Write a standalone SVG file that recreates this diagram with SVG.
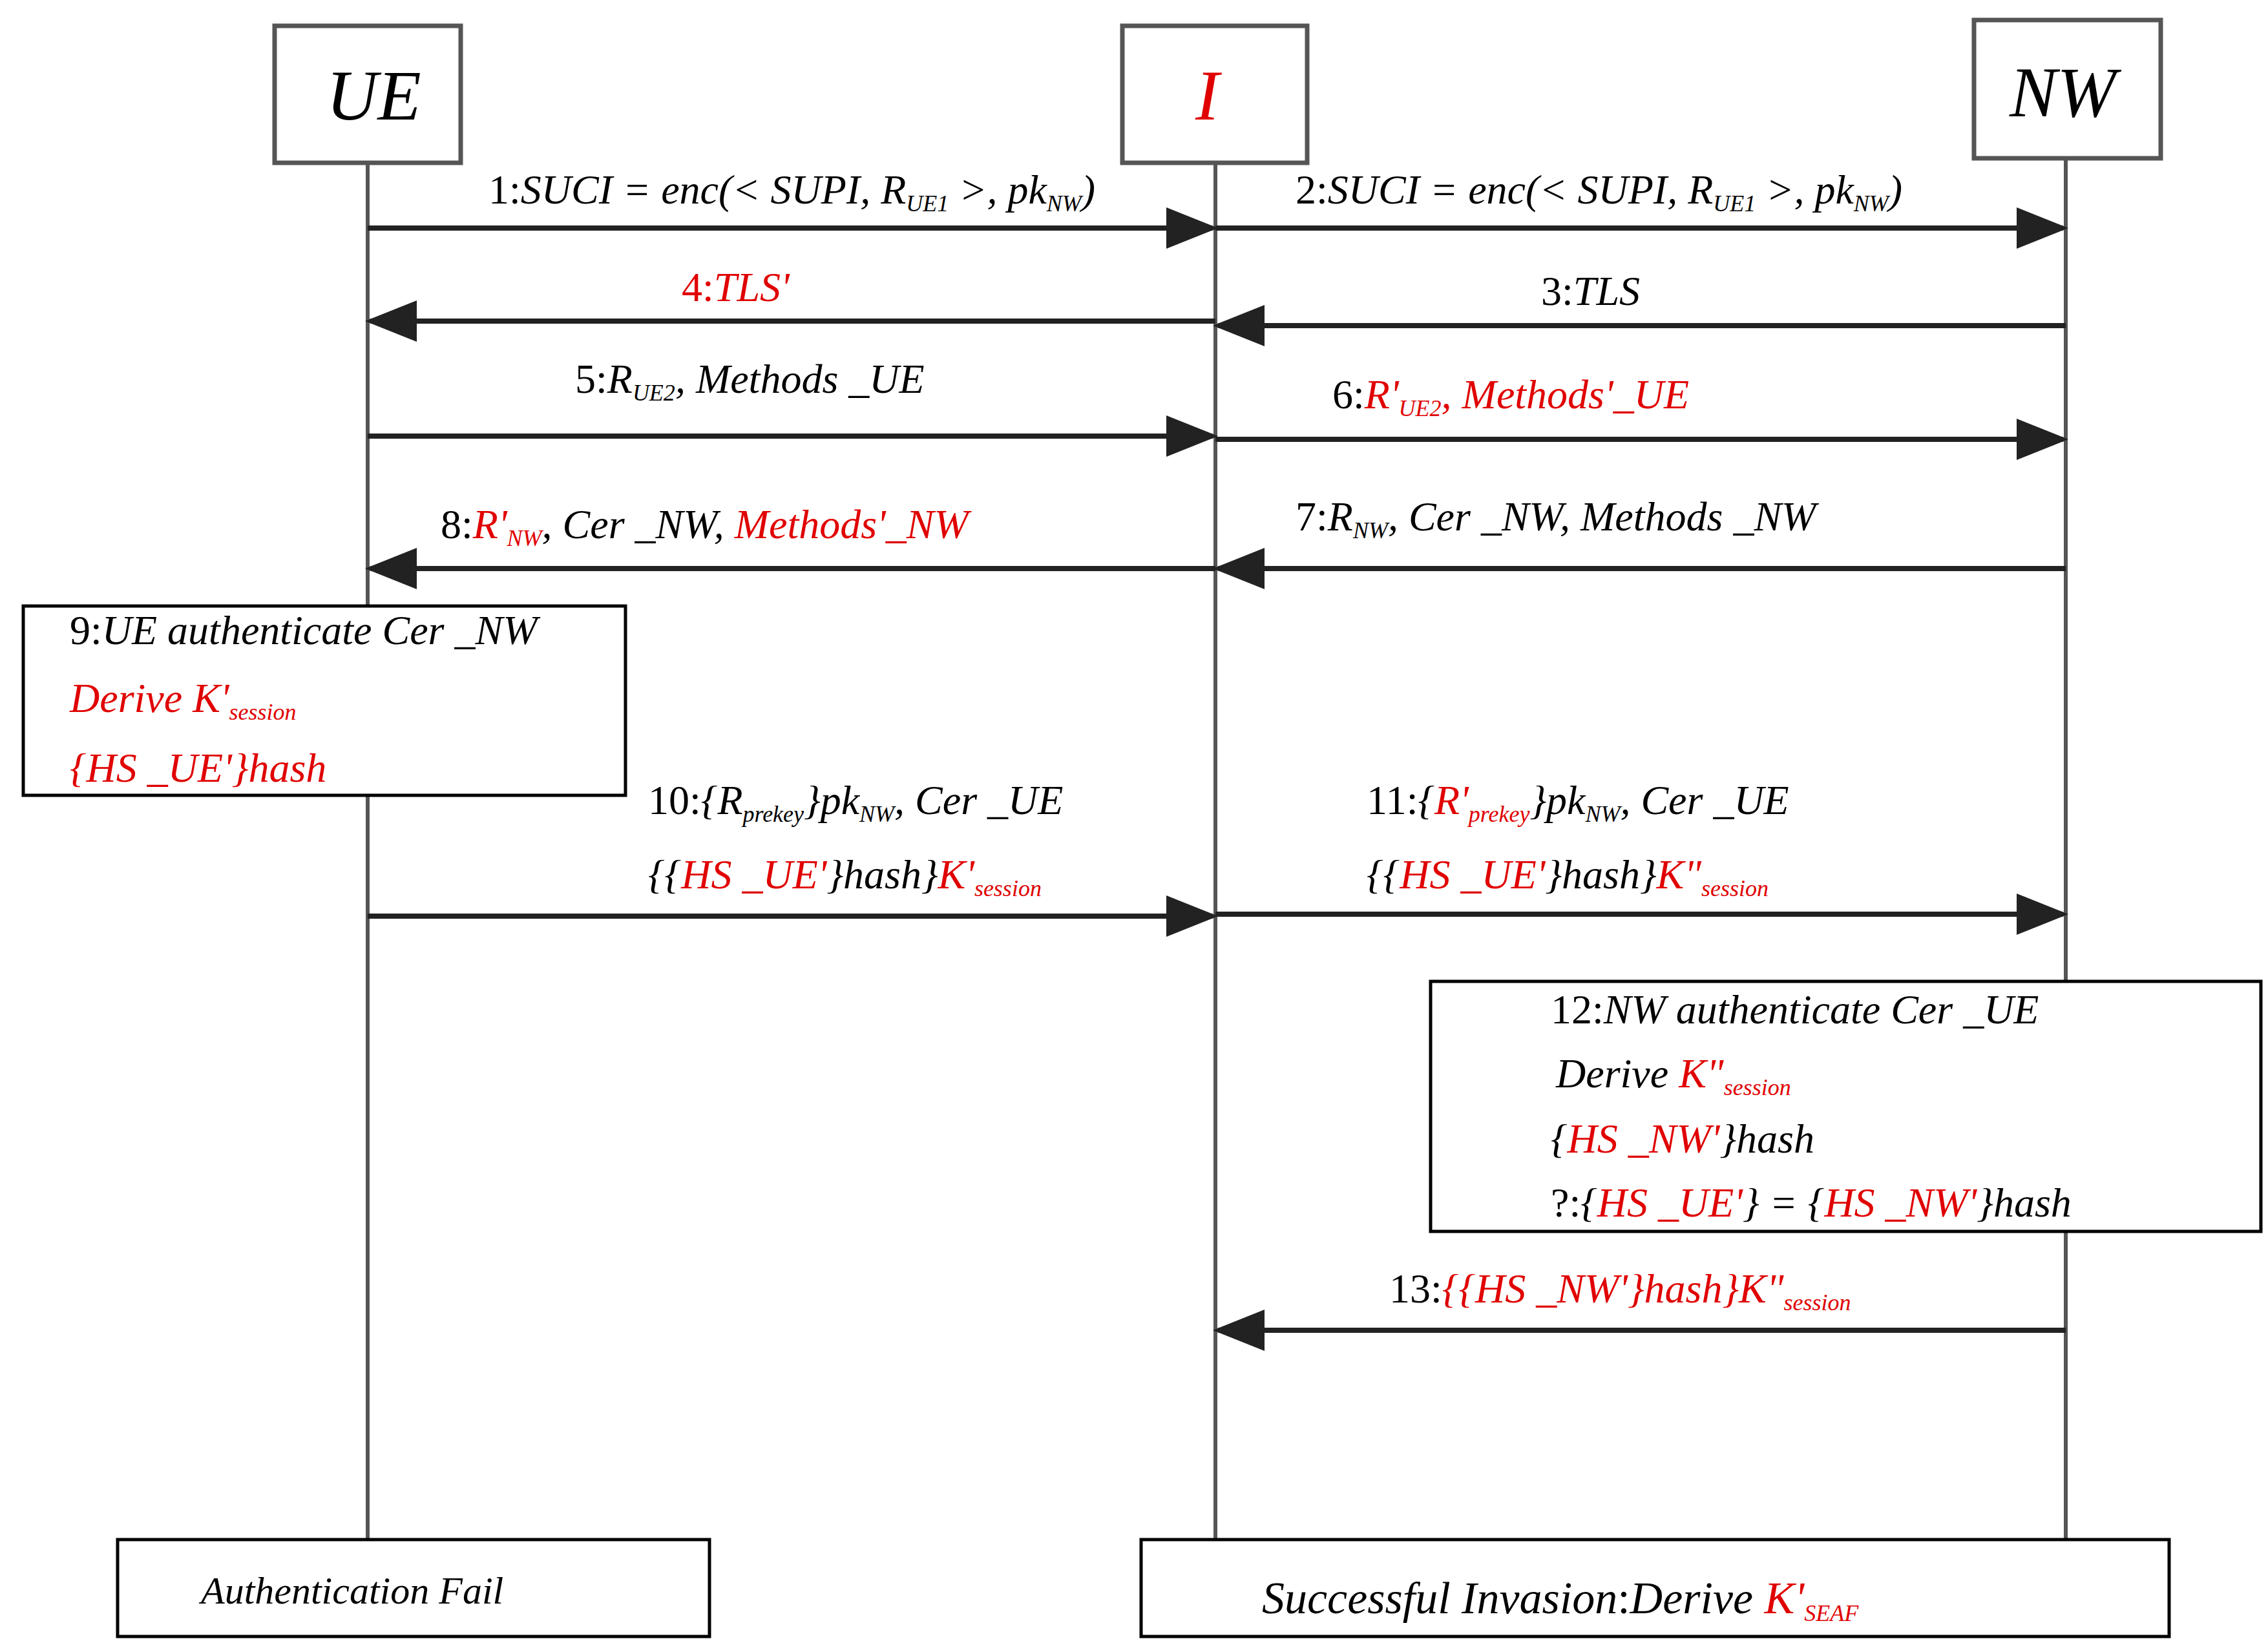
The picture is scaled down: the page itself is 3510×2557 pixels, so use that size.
<svg xmlns="http://www.w3.org/2000/svg" width="3510" height="2557" viewBox="0 0 3510 2557">
<style>
text{font-family:"Liberation Serif","Times New Roman",serif;font-style:italic;font-size:64px;fill:#000}
.n{font-style:normal}
.r{fill:#e00000}
.s{font-size:36px}
.h{font-size:110px}
.life{stroke:#555;stroke-width:6;fill:none}
.actor{fill:#fff;stroke:#555;stroke-width:7}
.box{fill:#fff;stroke:#000;stroke-width:5}
.msg{stroke:#222;stroke-width:8;fill:none;marker-end:url(#ah)}
</style>
<defs>
<marker id="ah" markerWidth="10" markerHeight="8" refX="9" refY="4" orient="auto" markerUnits="strokeWidth" viewBox="0 0 10 8"><path d="M0,0 L10,4 L0,8 z" fill="#222"/></marker>
</defs>
<rect width="3510" height="2557" fill="#fff"/>
<g id="lifelines">
<line class="life" x1="569" y1="252" x2="569" y2="2383"/>
<line class="life" x1="1881" y1="252" x2="1881" y2="2383"/>
<line class="life" x1="3197" y1="245" x2="3197" y2="2383"/>
</g>
<g id="UE"><rect class="actor" x="425" y="40" width="288" height="212"/><text class="h" x="505" y="185">UE</text></g>
<g id="I"><rect class="actor" x="1737" y="40" width="286" height="212"/><text class="h r" x="1850" y="185">I</text></g>
<g id="NW"><rect class="actor" x="3055" y="31" width="289" height="214"/><text class="h" x="3110" y="180">NW</text></g>
<g id="connectors">
<line class="msg" x1="569" y1="353" x2="1877" y2="353"/>
<line class="msg" x1="1881" y1="353" x2="3193" y2="353"/>
<line class="msg" x1="3197" y1="504" x2="1885" y2="504"/>
<line class="msg" x1="1881" y1="497" x2="573" y2="497"/>
<line class="msg" x1="569" y1="675" x2="1877" y2="675"/>
<line class="msg" x1="1881" y1="680" x2="3193" y2="680"/>
<line class="msg" x1="3197" y1="880" x2="1885" y2="880"/>
<line class="msg" x1="1881" y1="880" x2="573" y2="880"/>
<line class="msg" x1="569" y1="1418" x2="1877" y2="1418"/>
<line class="msg" x1="1881" y1="1415" x2="3193" y2="1415"/>
<line class="msg" x1="3197" y1="2059" x2="1885" y2="2059"/>
</g>
<g id="labels">
<text x="756" y="315"><tspan class="n">1:</tspan>SUCI = enc(&lt; SUPI, R<tspan class="s" dy="12">UE1</tspan><tspan dy="-12"> &gt;, pk</tspan><tspan class="s" dy="12">NW</tspan><tspan dy="-12">)</tspan></text>
<text x="2005" y="315"><tspan class="n">2:</tspan>SUCI = enc(&lt; SUPI, R<tspan class="s" dy="12">UE1</tspan><tspan dy="-12"> &gt;, pk</tspan><tspan class="s" dy="12">NW</tspan><tspan dy="-12">)</tspan></text>
<text x="1055" y="466" class="r"><tspan class="n r">4:</tspan>TLS'</text>
<text x="2385" y="472"><tspan class="n">3:</tspan>TLS</text>
<text x="890" y="608"><tspan class="n">5:</tspan>R<tspan class="s" dy="12">UE2</tspan><tspan dy="-12">, Methods _UE</tspan></text>
<text x="2062" y="632"><tspan class="n">6:</tspan><tspan class="r">R'</tspan><tspan class="s r" dy="12">UE2</tspan><tspan class="r" dy="-12">, Methods'_UE</tspan></text>
<text x="682" y="833"><tspan class="n">8:</tspan><tspan class="r">R'</tspan><tspan class="s r" dy="12">NW</tspan><tspan dy="-12">, Cer _NW, </tspan><tspan class="r">Methods'_NW</tspan></text>
<text x="2005" y="821"><tspan class="n">7:</tspan>R<tspan class="s" dy="12">NW</tspan><tspan dy="-12">, Cer _NW, Methods _NW</tspan></text>
<text x="1003" y="1260"><tspan class="n">10:</tspan>{R<tspan class="s" dy="12">prekey</tspan><tspan dy="-12">}pk</tspan><tspan class="s" dy="12">NW</tspan><tspan dy="-12">, Cer _UE</tspan></text>
<text x="1003" y="1375">{{<tspan class="r">HS _UE'</tspan>}hash}<tspan class="r">K'</tspan><tspan class="s r" dy="12">session</tspan></text>
<text x="2115" y="1260"><tspan class="n">11:</tspan>{<tspan class="r">R'</tspan><tspan class="s r" dy="12">prekey</tspan><tspan dy="-12">}pk</tspan><tspan class="s" dy="12">NW</tspan><tspan dy="-12">, Cer _UE</tspan></text>
<text x="2115" y="1375">{{<tspan class="r">HS _UE'</tspan>}hash}<tspan class="r">K"</tspan><tspan class="s r" dy="12">session</tspan></text>
<text x="2150" y="2016"><tspan class="n">13:</tspan><tspan class="r">{{HS _NW'}hash}K"</tspan><tspan class="s r" dy="12">session</tspan></text>
</g>
<g id="box9"><rect class="box" x="36" y="938" width="932" height="293"/>
<text x="108" y="997"><tspan class="n">9:</tspan>UE authenticate Cer _NW</text>
<text x="108" y="1102" class="r">Derive K'<tspan class="s r" dy="12">session</tspan></text>
<text x="108" y="1210" class="r">{HS _UE'}hash</text>
</g>
<g id="box12"><rect class="box" x="2214" y="1519" width="1285" height="387"/>
<text x="2400" y="1584"><tspan class="n">12:</tspan>NW authenticate Cer _UE</text>
<text x="2408" y="1683">Derive <tspan class="r">K"</tspan><tspan class="s r" dy="12">session</tspan></text>
<text x="2400" y="1784">{<tspan class="r">HS _NW'</tspan>}hash</text>
<text x="2400" y="1883"><tspan class="n">?:</tspan>{<tspan class="r">HS _UE'</tspan>} = {<tspan class="r">HS _NW'</tspan>}hash</text>
</g>
<g id="fail"><rect class="box" x="182" y="2383" width="916" height="150"/><text x="311" y="2482" style="font-size:60px">Authentication Fail</text></g>
<g id="success"><rect class="box" x="1766" y="2383" width="1591" height="150"/><text x="1953" y="2497" style="font-size:70px">Successful Invasion<tspan class="n">:</tspan>Derive <tspan class="r">K'</tspan><tspan class="s r" dy="12">SEAF</tspan></text></g>
</svg>
